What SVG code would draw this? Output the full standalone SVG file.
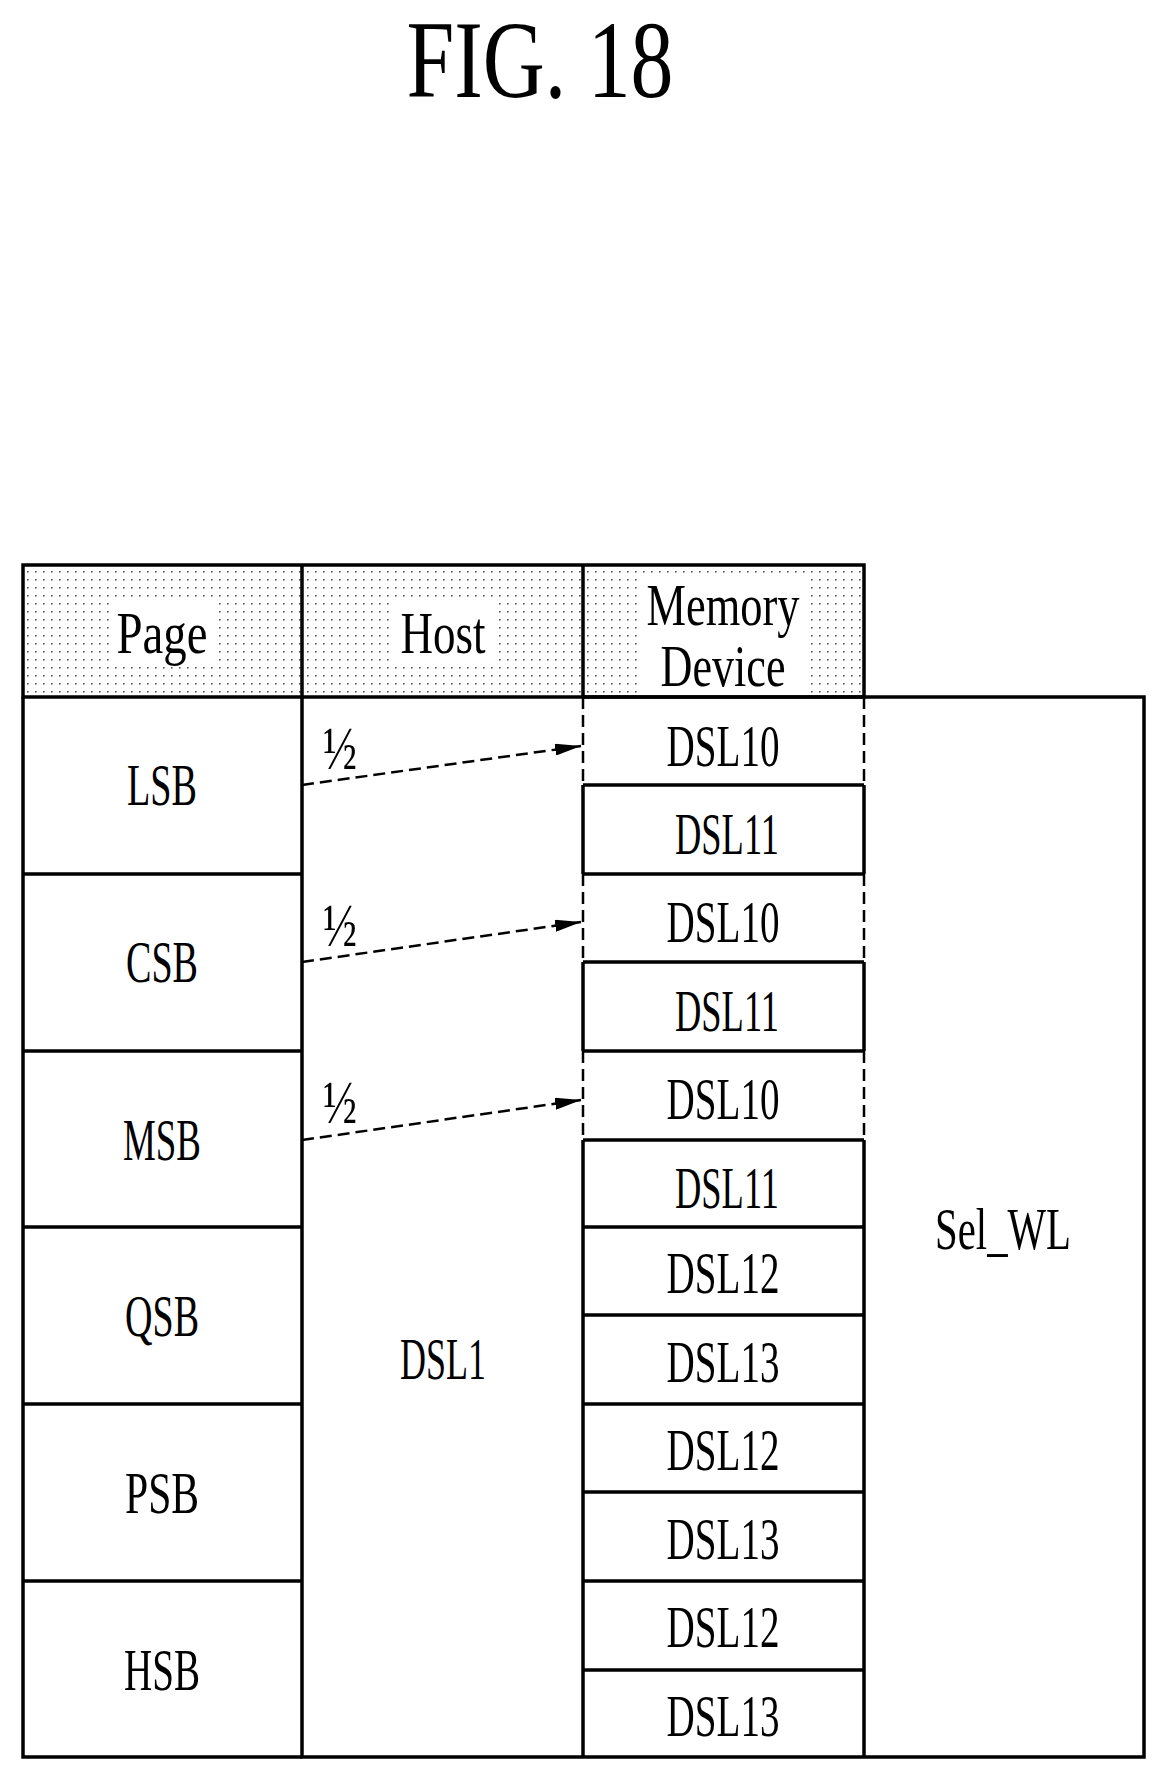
<svg xmlns="http://www.w3.org/2000/svg" width="1162" height="1773" viewBox="0 0 1162 1773">
<style>
text{font-family:"Liberation Serif",serif;fill:#000;text-anchor:middle;dominant-baseline:central}
.t{font-size:60px}
.s{stroke:#000;stroke-width:3.5;fill:none}
.d{stroke:#000;stroke-width:2.5;fill:none;stroke-dasharray:12,6}
</style>
<defs>
<pattern id="dots" width="8" height="8" patternUnits="userSpaceOnUse"><rect x="3" y="3" width="1.6" height="1.6" fill="#555"/></pattern>
<marker id="ah" markerWidth="26" markerHeight="12" refX="26" refY="6" orient="auto" markerUnits="userSpaceOnUse"><path d="M0,0 L26,6 L0,12 z" fill="#000"/></marker>
</defs>
<rect width="1162" height="1773" fill="#fff"/>
<text x="540" y="60" style="font-size:110px" textLength="267" lengthAdjust="spacingAndGlyphs">FIG. 18</text>
<g id="header">
<rect x="23" y="565" width="841" height="132" fill="url(#dots)"/>
<rect x="110" y="600" width="105" height="65" fill="#fff"/>
<rect x="390" y="600" width="105" height="65" fill="#fff"/>
<rect x="640" y="578" width="170" height="115" fill="#fff"/>
<path class="s" d="M23,565 H864 V697 H23 Z M302,565 V697 M583,565 V697"/>
<text class="t" x="162" y="633" textLength="91" lengthAdjust="spacingAndGlyphs">Page</text>
<text class="t" x="443" y="633" textLength="85" lengthAdjust="spacingAndGlyphs">Host</text>
<text class="t" x="723" y="605" textLength="153" lengthAdjust="spacingAndGlyphs">Memory</text>
<text class="t" x="723" y="666" textLength="125" lengthAdjust="spacingAndGlyphs">Device</text>
</g>
<g id="page">
<path class="s" d="M23,697 V1757 H302 M23,874 H302 M23,1051 H302 M23,1227 H302 M23,1404 H302 M23,1581 H302"/>
<text class="t" x="162" y="785" textLength="70" lengthAdjust="spacingAndGlyphs">LSB</text>
<text class="t" x="162" y="962" textLength="72" lengthAdjust="spacingAndGlyphs">CSB</text>
<text class="t" x="162" y="1140" textLength="78" lengthAdjust="spacingAndGlyphs">MSB</text>
<text class="t" x="162" y="1316" textLength="74" lengthAdjust="spacingAndGlyphs">QSB</text>
<text class="t" x="162" y="1493" textLength="74" lengthAdjust="spacingAndGlyphs">PSB</text>
<text class="t" x="162" y="1670" textLength="76" lengthAdjust="spacingAndGlyphs">HSB</text>
</g>
<g id="host">
<path class="s" d="M302,697 V1757 H583"/>
<text class="t" x="443" y="1359" textLength="86" lengthAdjust="spacingAndGlyphs">DSL1</text>
</g>
<g id="memory">
<path class="s" d="M583,697 H864 M583,785 H864 M583,874 H864 M583,962 H864 M583,1051 H864 M583,1140 H864 M583,1227 H864 M583,1315 H864 M583,1404 H864 M583,1492 H864 M583,1581 H864 M583,1670 H864 M583,1757 H864"/>
<path class="s" d="M583,785 V874 M864,785 V874 M583,962 V1051 M864,962 V1051 M583,1140 V1757 M864,1140 V1757"/>
<path class="d" d="M583,697 V785 M864,697 V785 M583,874 V962 M864,874 V962 M583,1051 V1140 M864,1051 V1140"/>
<text class="t" x="723" y="746" textLength="113" lengthAdjust="spacingAndGlyphs">DSL10</text>
<text class="t" x="727" y="834" textLength="104" lengthAdjust="spacingAndGlyphs">DSL11</text>
<text class="t" x="723" y="922" textLength="113" lengthAdjust="spacingAndGlyphs">DSL10</text>
<text class="t" x="727" y="1011" textLength="104" lengthAdjust="spacingAndGlyphs">DSL11</text>
<text class="t" x="723" y="1099" textLength="113" lengthAdjust="spacingAndGlyphs">DSL10</text>
<text class="t" x="727" y="1188" textLength="104" lengthAdjust="spacingAndGlyphs">DSL11</text>
<text class="t" x="723" y="1273" textLength="113" lengthAdjust="spacingAndGlyphs">DSL12</text>
<text class="t" x="723" y="1362" textLength="113" lengthAdjust="spacingAndGlyphs">DSL13</text>
<text class="t" x="723" y="1450" textLength="113" lengthAdjust="spacingAndGlyphs">DSL12</text>
<text class="t" x="723" y="1539" textLength="113" lengthAdjust="spacingAndGlyphs">DSL13</text>
<text class="t" x="723" y="1627" textLength="113" lengthAdjust="spacingAndGlyphs">DSL12</text>
<text class="t" x="723" y="1716" textLength="113" lengthAdjust="spacingAndGlyphs">DSL13</text>
</g>
<g id="selwl">
<path class="s" d="M864,697 H1144 V1757 H864"/>
<text class="t" x="1003" y="1229" textLength="136" lengthAdjust="spacingAndGlyphs">Sel_WL</text>
</g>
<g id="connectors">
<path class="d" d="M302,785 L581,746" marker-end="url(#ah)"/>
<path class="d" d="M302,962 L581,922" marker-end="url(#ah)"/>
<path class="d" d="M302,1140 L581,1100" marker-end="url(#ah)"/>
<text x="340" y="748" style="font-size:62px" textLength="34" lengthAdjust="spacingAndGlyphs">½</text>
<text x="340" y="925" style="font-size:62px" textLength="34" lengthAdjust="spacingAndGlyphs">½</text>
<text x="340" y="1102" style="font-size:62px" textLength="34" lengthAdjust="spacingAndGlyphs">½</text>
</g>
</svg>
